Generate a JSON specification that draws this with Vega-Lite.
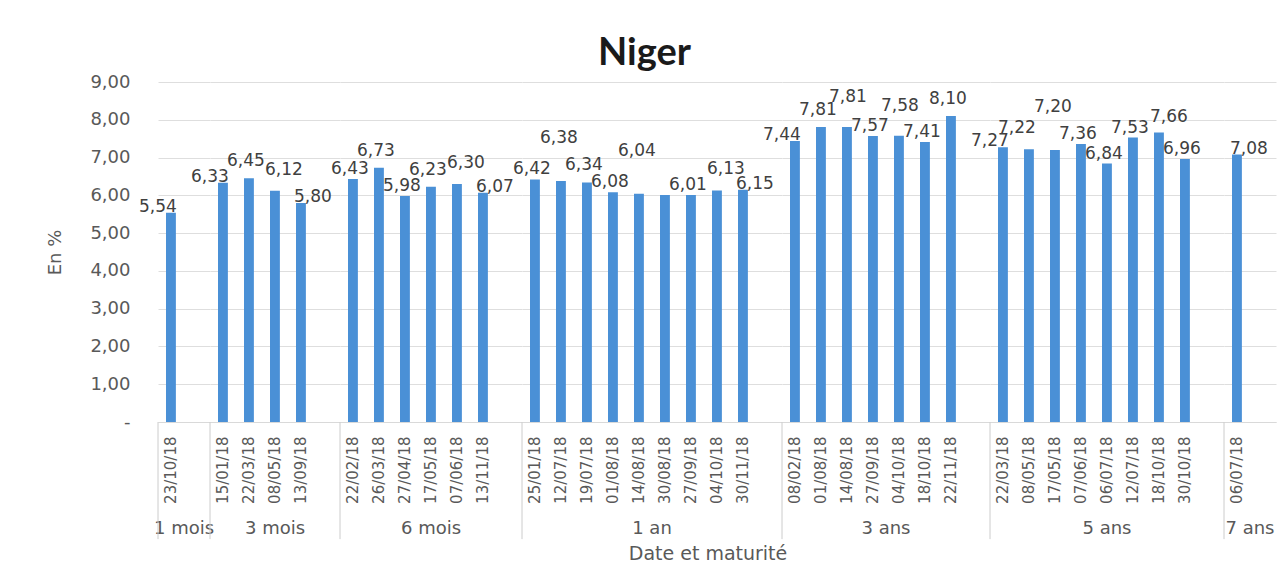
{
  "$schema": "https://vega.github.io/schema/vega-lite/v6.json",
  "background": "#ffffff",
  "bounds": "flush",
  "padding": {"top": 35, "left": 46, "right": 5, "bottom": 5},
  "title": {"text": "Niger", "font": "Lato", "fontSize": 38, "fontWeight": "bold", "color": "#1a1a1a", "anchor": "middle", "frame": "bounds", "dx": -17, "offset": 0},
  "data": {"values": [
    {"g": "1 mois", "d": "23/10/18", "v": 5.54},
    {"g": "3 mois", "d": "15/01/18", "v": 6.33},
    {"g": "3 mois", "d": "22/03/18", "v": 6.45},
    {"g": "3 mois", "d": "08/05/18", "v": 6.12},
    {"g": "3 mois", "d": "13/09/18", "v": 5.80},
    {"g": "6 mois", "d": "22/02/18", "v": 6.43},
    {"g": "6 mois", "d": "26/03/18", "v": 6.73},
    {"g": "6 mois", "d": "27/04/18", "v": 5.98},
    {"g": "6 mois", "d": "17/05/18", "v": 6.23},
    {"g": "6 mois", "d": "07/06/18", "v": 6.30},
    {"g": "6 mois", "d": "13/11/18", "v": 6.07},
    {"g": "1 an", "d": "25/01/18", "v": 6.42},
    {"g": "1 an", "d": "12/07/18", "v": 6.38},
    {"g": "1 an", "d": "19/07/18", "v": 6.34},
    {"g": "1 an", "d": "01/08/18", "v": 6.08},
    {"g": "1 an", "d": "14/08/18", "v": 6.04},
    {"g": "1 an", "d": "30/08/18", "v": 6.01},
    {"g": "1 an", "d": "27/09/18", "v": 6.01},
    {"g": "1 an", "d": "04/10/18", "v": 6.13},
    {"g": "1 an", "d": "30/11/18", "v": 6.15},
    {"g": "3 ans", "d": "08/02/18", "v": 7.44},
    {"g": "3 ans", "d": "01/08/18", "v": 7.81},
    {"g": "3 ans", "d": "14/08/18", "v": 7.81},
    {"g": "3 ans", "d": "27/09/18", "v": 7.57},
    {"g": "3 ans", "d": "04/10/18", "v": 7.58},
    {"g": "3 ans", "d": "18/10/18", "v": 7.41},
    {"g": "3 ans", "d": "22/11/18", "v": 8.10},
    {"g": "5 ans", "d": "22/03/18", "v": 7.27},
    {"g": "5 ans", "d": "08/05/18", "v": 7.22},
    {"g": "5 ans", "d": "17/05/18", "v": 7.20},
    {"g": "5 ans", "d": "07/06/18", "v": 7.36},
    {"g": "5 ans", "d": "06/07/18", "v": 6.84},
    {"g": "5 ans", "d": "12/07/18", "v": 7.53},
    {"g": "5 ans", "d": "18/10/18", "v": 7.66},
    {"g": "5 ans", "d": "30/10/18", "v": 6.96},
    {"g": "7 ans", "d": "06/07/18", "v": 7.08}
  ]},
  "facet": {
    "column": {
      "field": "g", "type": "nominal",
      "sort": ["1 mois", "3 mois", "6 mois", "1 an", "3 ans", "5 ans", "7 ans"],
      "title": "Date et maturité",
      "header": {
        "labelOrient": "bottom", "titleOrient": "bottom",
        "labelFont": "DejaVu Sans", "labelFontSize": 18, "labelColor": "#595959", "labelPadding": 98,
        "titleFont": "DejaVu Sans", "titleFontSize": 19, "titleColor": "#595959", "titleFontWeight": "normal", "titlePadding": -3
      }
    }
  },
  "spacing": 0,
  "resolve": {"scale": {"x": "independent"}},
  "spec": {
    "width": {"step": 26},
    "height": 340,
    "encoding": {
      "x": {"field": "d", "type": "ordinal", "sort": null,
        "scale": {"paddingInner": 0.62, "paddingOuter": 0.81, "align": 0.19},
        "axis": {"title": null, "labelAngle": -90, "labelFont": "DejaVu Sans", "labelFontSize": 15, "labelColor": "#595959",
          "labelOverlap": false, "labelLimit": 200, "ticks": false, "labelPadding": 14,
          "domainColor": "#d9d9d9"}},
      "y": {"field": "v", "type": "quantitative", "scale": {"domain": [0, 9]},
        "axis": {"title": "En %", "values": [0, 1, 2, 3, 4, 5, 6, 7, 8, 9],
          "labelExpr": "datum.value == 0 ? '-' : replace(format(datum.value, '.2f'), '.', ',')",
          "labelFont": "DejaVu Sans", "labelFontSize": 18, "labelColor": "#595959", "labelPadding": 28,
          "titleFont": "DejaVu Sans", "titleFontSize": 18, "titleColor": "#595959", "titleFontWeight": "normal", "titlePadding": 25,
          "grid": true, "gridColor": "#dedede", "domain": false, "ticks": false}}
    },
    "layer": [
      {
        "transform": [{"filter": "indexof(['1 mois|23/10/18','3 mois|15/01/18','6 mois|22/02/18','1 an|25/01/18','3 ans|08/02/18','5 ans|22/03/18','7 ans|06/07/18'], datum.g + '|' + datum.d) >= 0"}],
        "mark": {"type": "rule", "color": "#cccccc", "strokeWidth": 1, "xOffset": -8},
        "encoding": {
          "x": {"field": "d", "type": "ordinal", "sort": null, "bandPosition": 0},
          "y": {"datum": 0, "type": "quantitative"},
          "y2": {"datum": -3.1}
        }
      },
      {
        "mark": {"type": "bar", "color": "#4a90d6"}
      },
      {
        "transform": [{"filter": "indexof(['1 mois|23/10/18','3 mois|15/01/18','3 ans|08/02/18','5 ans|22/03/18'], datum.g + '|' + datum.d) >= 0"}],
        "mark": {"type": "text", "dx": -13, "dy": -6, "baseline": "middle", "font": "DejaVu Sans", "fontSize": 17, "color": "#404040"},
        "encoding": {"text": {"field": "v", "type": "quantitative", "format": ".2f"}}
      },
      {
        "transform": [{"filter": "indexof(['3 mois|13/09/18','6 mois|13/11/18','7 ans|06/07/18','1 an|30/11/18'], datum.g + '|' + datum.d) >= 0"}],
        "mark": {"type": "text", "dx": 12, "dy": -6, "baseline": "middle", "font": "DejaVu Sans", "fontSize": 17, "color": "#404040"},
        "encoding": {"text": {"field": "v", "type": "quantitative", "format": ".2f"}}
      },
      {
        "transform": [{"filter": "indexof(['3 mois|08/05/18','6 mois|07/06/18','1 an|04/10/18'], datum.g + '|' + datum.d) >= 0"}],
        "mark": {"type": "text", "dx": 9, "dy": -21, "baseline": "middle", "font": "DejaVu Sans", "fontSize": 17, "color": "#404040"},
        "encoding": {"text": {"field": "v", "type": "quantitative", "format": ".2f"}}
      },
      {
        "transform": [{"filter": "indexof(['6 mois|27/04/18','1 an|25/01/18','1 an|01/08/18','1 an|27/09/18','3 ans|27/09/18','5 ans|07/06/18','5 ans|12/07/18','6 mois|22/02/18','3 ans|18/10/18','5 ans|06/07/18','5 ans|30/10/18'], datum.g + '|' + datum.d) >= 0"}],
        "mark": {"type": "text", "dx": -3, "dy": -10, "baseline": "middle", "font": "DejaVu Sans", "fontSize": 17, "color": "#404040"},
        "encoding": {"text": {"field": "v", "type": "quantitative", "format": ".2f"}}
      },
      {
        "transform": [{"filter": "indexof(['3 mois|22/03/18','1 an|19/07/18','3 ans|01/08/18','6 mois|26/03/18','3 ans|22/11/18','6 mois|17/05/18'], datum.g + '|' + datum.d) >= 0"}],
        "mark": {"type": "text", "dx": -3, "dy": -17, "baseline": "middle", "font": "DejaVu Sans", "fontSize": 17, "color": "#404040"},
        "encoding": {"text": {"field": "v", "type": "quantitative", "format": ".2f"}}
      },
      {
        "transform": [{"filter": "indexof(['3 ans|14/08/18','3 ans|04/10/18'], datum.g + '|' + datum.d) >= 0"}],
        "mark": {"type": "text", "dx": 1, "dy": -30, "baseline": "middle", "font": "DejaVu Sans", "fontSize": 17, "color": "#404040"},
        "encoding": {"text": {"field": "v", "type": "quantitative", "format": ".2f"}}
      },
      {
        "transform": [{"filter": "indexof(['1 an|12/07/18','1 an|14/08/18','5 ans|17/05/18'], datum.g + '|' + datum.d) >= 0"}],
        "mark": {"type": "text", "dx": -2, "dy": -43, "baseline": "middle", "font": "DejaVu Sans", "fontSize": 17, "color": "#404040"},
        "encoding": {"text": {"field": "v", "type": "quantitative", "format": ".2f"}}
      },
      {
        "transform": [{"filter": "indexof(['5 ans|18/10/18'], datum.g + '|' + datum.d) >= 0"}],
        "mark": {"type": "text", "dx": 10, "dy": -16, "baseline": "middle", "font": "DejaVu Sans", "fontSize": 17, "color": "#404040"},
        "encoding": {"text": {"field": "v", "type": "quantitative", "format": ".2f"}}
      },
      {
        "transform": [{"filter": "indexof(['5 ans|08/05/18'], datum.g + '|' + datum.d) >= 0"}],
        "mark": {"type": "text", "dx": -12, "dy": -21, "baseline": "middle", "font": "DejaVu Sans", "fontSize": 17, "color": "#404040"},
        "encoding": {"text": {"field": "v", "type": "quantitative", "format": ".2f"}}
      }
    ]
  },
  "config": {
    "view": {"stroke": null},
    "locale": {"number": {"decimal": ",", "thousands": " ", "grouping": [3], "currency": ["", " €"]}}
  }
}
